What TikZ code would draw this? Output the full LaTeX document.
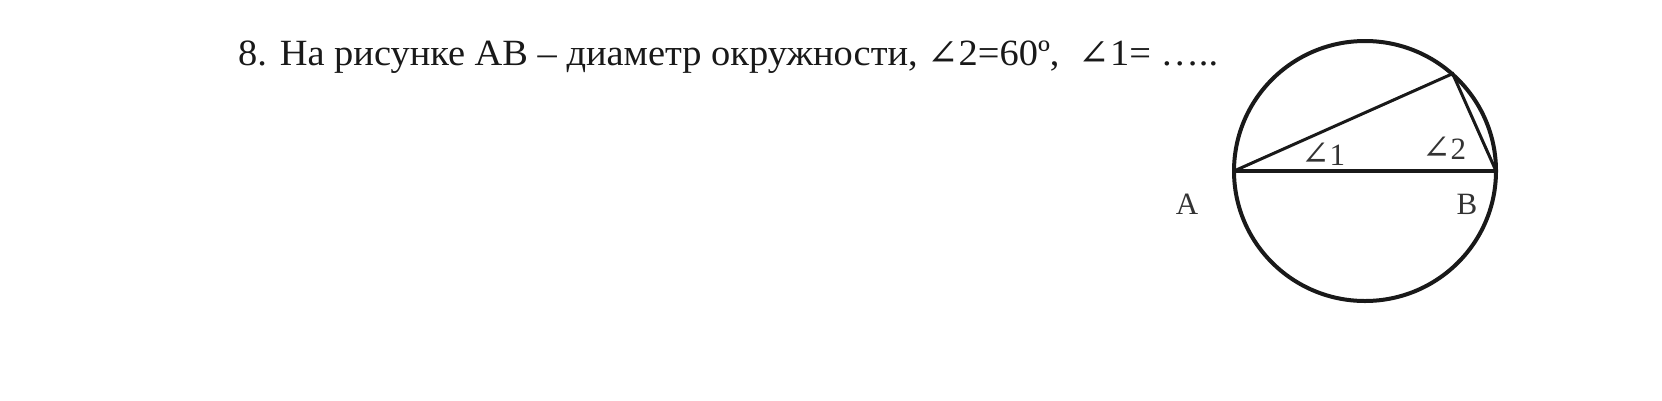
\documentclass[tikz,border=0pt]{standalone}
\usepackage{fontspec}
\usetikzlibrary{calc}
\setmainfont{Liberation Serif}
\newfontfamily\angfont{DejaVu Serif}
\newcommand{\angsym}{{\angfont\fontsize{36}{38}\selectfont∠}}
\begin{document}
\begin{tikzpicture}[x=1pt,y=-1pt,
  txt/.style={font=\fontsize{37}{40}\selectfont, text=black!90, inner sep=0pt},
  lbl/.style={font=\fontsize{31}{34}\selectfont, text=black!80, inner sep=0pt},
  geo/.style={line width=3.5pt, black!90}]
\useasboundingbox[fill=white] (0,0) rectangle (1662,400);
\node[txt, anchor=base west] (title) at (238,65)
  {\resizebox{980pt}{\height}{8. На рисунке АВ – диаметр окружности, \angsym2=60º,\ \ \angsym1= …..}};
\coordinate (O) at (1365,171);
\coordinate (A) at (1234,171);
\coordinate (B) at (1496,171);
\coordinate (C) at ($(O)+(-48:131)$);
\draw[geo, line width=4pt] (O) circle[x radius=131, y radius=130];
\draw[geo] (A) -- (B);
\draw[geo, line width=3pt] (A) -- (C) -- (B);
\node[lbl, anchor=base] (la) at (1187,214) {A};
\node[lbl, anchor=base] (lb) at (1467,214) {B};
\node[lbl, anchor=base] (l1) at (1323,165) {{\angfont\fontsize{34}{36}\selectfont∠}1};
\node[lbl, anchor=base] (l2) at (1444,159) {{\angfont\fontsize{34}{36}\selectfont∠}2};
\end{tikzpicture}
\end{document}
